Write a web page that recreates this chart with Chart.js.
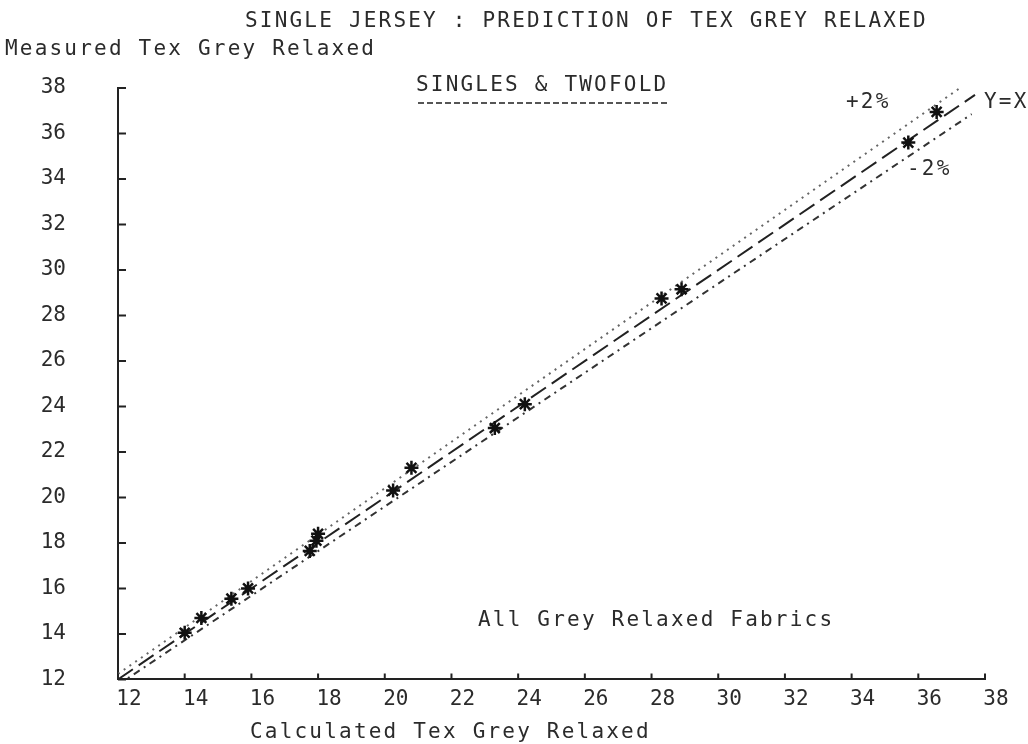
<!DOCTYPE html>
<html>
<head>
<meta charset="utf-8">
<title>Single Jersey: Tex Grey Relaxed</title>
<script src="https://cdn.jsdelivr.net/npm/chart.js@4.4.1/dist/chart.umd.min.js"></script>
<style>
  html, body { margin: 0; padding: 0; background: #fff; }
  canvas { display: block; }
</style>
</head>
<body>
<canvas id="texChart" width="1028" height="744"></canvas>
<script>
// calculated vs measured tex, grey relaxed fabrics (singles & twofold)
const calcTex = [14.0, 14.5, 15.4, 15.9, 17.75, 17.95, 18.0, 20.25, 20.8, 23.3, 24.2, 28.3, 28.9, 35.7, 36.55];
const measTex = [14.05, 14.7, 15.55, 16.0, 17.65, 18.1, 18.4, 20.3, 21.3, 23.05, 24.1, 28.75, 29.15, 35.6, 36.95];

// reference lines, end points
const lineYX    = [[12, 12], [37.7, 37.7]];
const linePlus  = [[12, 12.24], [37.25, 38]];
const lineMinus = [[12, 11.76], [37.6, 36.85]];

const axisMin = 12;
const axisMax = 38;
const tickStep = 2;

const FONT = "'DejaVu Sans Mono', monospace";
const INK = "#2b2b2b";

const toPoints = (xs, ys) => xs.map((x, i) => ({ x, y: ys[i] }));
const pairPoints = arr => arr.map(p => ({ x: p[0], y: p[1] }));

function refLine(label, pts, dash, color) {
  return {
    label,
    data: pairPoints(pts),
    showLine: true,
    borderColor: color,
    borderWidth: 2,
    borderDash: dash,
    pointRadius: 0,
    fill: false
  };
}

// text and inner tick marks, drawn on top of the chart
const decor = {
  id: "decor",
  afterDraw(chart) {
    const ctx = chart.ctx;
    const xs = chart.scales.x;
    const ys = chart.scales.y;

    ctx.save();
    ctx.strokeStyle = "#222";
    ctx.lineWidth = 2;
    ctx.beginPath();
    xs.ticks.forEach(t => {
      const px = xs.getPixelForValue(t.value);
      ctx.moveTo(px, ys.bottom);
      ctx.lineTo(px, ys.bottom - 6);
    });
    ys.ticks.forEach(t => {
      const py = ys.getPixelForValue(t.value);
      ctx.moveTo(xs.left, py);
      ctx.lineTo(xs.left + 8, py);
    });
    ctx.stroke();

    ctx.fillStyle = INK;
    ctx.font = "21px " + FONT;
    ctx.letterSpacing = "2.2px";
    ctx.textBaseline = "middle";
    ctx.textAlign = "left";
    const put = (s, x, y) => ctx.fillText(s, x, y);

    put("SINGLE JERSEY : PREDICTION OF TEX GREY RELAXED", 245, 22);
    put("Measured Tex Grey Relaxed", 5, 50);
    put("SINGLES & TWOFOLD", 416, 86);
    put("+2%", 846, 103);
    put("Y=X", 984, 103);
    put("-2%", 907, 170);
    put("All Grey Relaxed Fabrics", 478, 621);
    put("Calculated Tex Grey Relaxed", 250, 733);

    // dashed underline below the group heading
    ctx.letterSpacing = "0px";
    ctx.strokeStyle = "#555";
    ctx.lineWidth = 2;
    ctx.setLineDash([6, 3]);
    ctx.beginPath();
    ctx.moveTo(418, 103);
    ctx.lineTo(668, 103);
    ctx.stroke();
    ctx.restore();
  }
};

new Chart(document.getElementById("texChart"), {
  type: "scatter",
  data: {
    datasets: [
      {
        label: "Fabrics",
        data: toPoints(calcTex, measTex),
        pointStyle: "star",
        pointRadius: 7,
        borderColor: "#111",
        borderWidth: 2.5,
        backgroundColor: "#111"
      },
      refLine("+2%", linePlus, [2, 5], "#666"),
      refLine("Y=X", lineYX, [18, 7], "#222"),
      refLine("-2%", lineMinus, [7, 5, 2, 5], "#333")
    ]
  },
  options: {
    responsive: false,
    animation: false,
    layout: { padding: { left: 0, right: 43, top: 88, bottom: 0 } },
    plugins: {
      legend: { display: false },
      tooltip: { enabled: false }
    },
    scales: {
      x: {
        type: "linear",
        min: axisMin,
        max: axisMax,
        grid: { display: false, drawTicks: false },
        border: { display: true, color: "#222", width: 2 },
        ticks: {
          stepSize: tickStep,
          padding: 8,
          labelOffset: 11,
          maxRotation: 0,
          autoSkip: false,
          color: INK,
          font: { family: FONT, size: 21 }
        },
        afterFit: s => { s.height = 59; }
      },
      y: {
        type: "linear",
        min: axisMin,
        max: axisMax,
        grid: { display: false, drawTicks: false },
        border: { display: true, color: "#222", width: 2 },
        ticks: {
          stepSize: tickStep,
          padding: 52,
          autoSkip: false,
          color: INK,
          font: { family: FONT, size: 21 }
        },
        afterFit: s => { s.width = 118; }
      }
    }
  },
  plugins: [decor]
});
</script>
</body>
</html>
